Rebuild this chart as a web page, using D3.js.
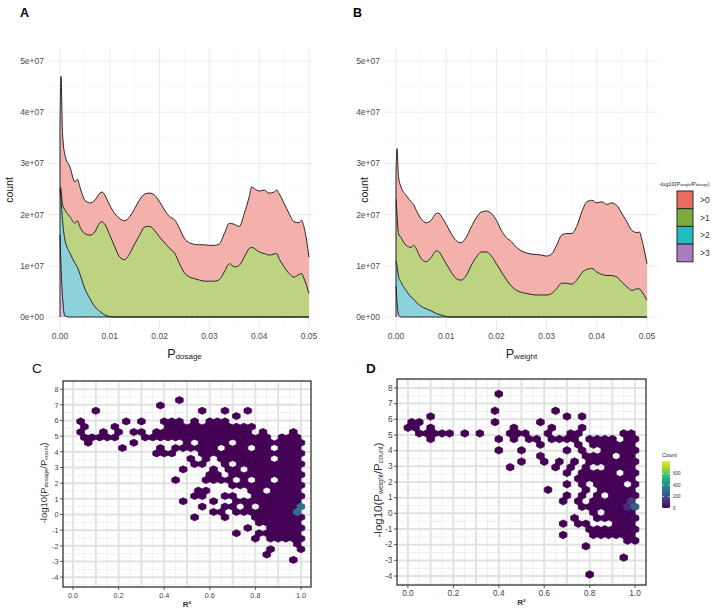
<!DOCTYPE html>
<html><head><meta charset="utf-8">
<script src="https://cdn.jsdelivr.net/npm/d3@7"></script>
<style>
body{margin:0;background:#fff}
svg{display:block}
text{font-family:"Liberation Sans",Arial,sans-serif}
</style>
</head><body>
<svg id="chart" width="720" height="612"></svg>
<script>
// ================= DATA =================
// x grid of the density curves (P value)
const densityX = [0, 0.0002, 0.0005, 0.001, 0.002, 0.003, 0.0035, 0.004, 0.005, 0.006,
  0.007, 0.008, 0.0085, 0.009, 0.010, 0.011, 0.012, 0.013, 0.014, 0.015,
  0.016, 0.017, 0.018, 0.019, 0.020, 0.021, 0.022, 0.023, 0.024, 0.025,
  0.026, 0.027, 0.028, 0.029, 0.030, 0.031, 0.032, 0.033, 0.034, 0.035,
  0.036, 0.037, 0.038, 0.0385, 0.039, 0.040, 0.041, 0.042, 0.043, 0.0435,
  0.044, 0.045, 0.046, 0.047, 0.048, 0.0485, 0.049, 0.050];
const countUnit = 1e7;
const groups = [">0", ">1", ">2", ">3"];
// stacked tops (units of 1e7) for P_dosage
const dosageTopGt0 = [3.8, 4.7, 3.6, 3.16, 2.93, 2.64, 2.69, 2.54, 2.28, 2.23,
  2.28, 2.42, 2.44, 2.38, 2.18, 2.02, 1.92, 1.88, 1.96, 2.12,
  2.29, 2.40, 2.42, 2.38, 2.25, 2.09, 1.96, 1.90, 1.73, 1.53,
  1.45, 1.42, 1.41, 1.41, 1.40, 1.40, 1.43, 1.63, 1.83, 1.81,
  1.77, 2.02, 2.35, 2.54, 2.51, 2.46, 2.48, 2.42, 2.44, 2.48,
  2.41, 2.22, 2.02, 1.86, 1.84, 1.89, 1.76, 1.17];
const dosageTopGt1 = [2.55, 2.5, 2.2, 2.09, 1.96, 1.83, 1.88, 1.76, 1.63, 1.60,
  1.66, 1.84, 1.86, 1.81, 1.60, 1.37, 1.17, 1.12, 1.24, 1.43,
  1.60, 1.76, 1.77, 1.69, 1.56, 1.45, 1.34, 1.25, 1.04, 0.86,
  0.78, 0.75, 0.72, 0.70, 0.70, 0.70, 0.73, 0.88, 1.04, 0.98,
  1.01, 1.17, 1.34, 1.36, 1.34, 1.27, 1.24, 1.21, 1.23, 1.24,
  1.14, 0.98, 0.85, 0.78, 0.83, 0.85, 0.75, 0.46];
const dosageTopGt2 = [2.5, 2.3, 1.9, 1.5, 1.25, 1.05, 0.97, 0.84, 0.55, 0.36,
  0.2, 0.11, 0.07, 0.04, 0.01, 0, 0, 0, 0, 0,
  0, 0, 0, 0, 0, 0, 0, 0, 0, 0,
  0, 0, 0, 0, 0, 0, 0, 0, 0, 0,
  0, 0, 0, 0, 0, 0, 0, 0, 0, 0,
  0, 0, 0, 0, 0, 0, 0, 0];
const dosageTopGt3 = [1.6, 1.0, 0.4, 0.02, 0, 0, 0, 0, 0, 0,
  0, 0, 0, 0, 0, 0, 0, 0, 0, 0,
  0, 0, 0, 0, 0, 0, 0, 0, 0, 0,
  0, 0, 0, 0, 0, 0, 0, 0, 0, 0,
  0, 0, 0, 0, 0, 0, 0, 0, 0, 0,
  0, 0, 0, 0, 0, 0, 0, 0];
// stacked tops (units of 1e7) for P_weight
const weightTopGt0 = [2.8, 3.29, 2.74, 2.54, 2.38, 2.25, 2.20, 2.09, 1.92, 1.84,
  1.89, 2.02, 2.03, 1.97, 1.81, 1.63, 1.49, 1.45, 1.56, 1.76,
  1.94, 2.05, 2.07, 2.02, 1.89, 1.69, 1.55, 1.47, 1.36, 1.29,
  1.25, 1.23, 1.22, 1.21, 1.19, 1.23, 1.40, 1.60, 1.63, 1.63,
  1.77, 2.05, 2.25, 2.27, 2.28, 2.23, 2.25, 2.20, 2.23, 2.21,
  2.18, 2.02, 1.86, 1.69, 1.65, 1.66, 1.50, 1.04];
const weightTopGt1 = [2.3, 2.0, 1.63, 1.55, 1.40, 1.36, 1.40, 1.34, 1.14, 1.08,
  1.16, 1.29, 1.28, 1.21, 1.04, 0.88, 0.75, 0.72, 0.81, 1.01,
  1.17, 1.27, 1.27, 1.19, 1.04, 0.88, 0.73, 0.60, 0.52, 0.48,
  0.46, 0.44, 0.43, 0.43, 0.43, 0.46, 0.55, 0.66, 0.66, 0.64,
  0.72, 0.86, 0.93, 0.94, 0.95, 0.88, 0.83, 0.81, 0.81, 0.80,
  0.78, 0.68, 0.59, 0.52, 0.55, 0.55, 0.49, 0.33];
const weightTopGt2 = [1.1, 1.0, 0.8, 0.68, 0.52, 0.39, 0.35, 0.29, 0.21, 0.16,
  0.12, 0.07, 0.05, 0.04, 0.01, 0, 0, 0, 0, 0,
  0, 0, 0, 0, 0, 0, 0, 0, 0, 0,
  0, 0, 0, 0, 0, 0, 0, 0, 0, 0,
  0, 0, 0, 0, 0, 0, 0, 0, 0, 0,
  0, 0, 0, 0, 0, 0, 0, 0];
const weightTopGt3 = [0.6, 0.3, 0.05, 0, 0, 0, 0, 0, 0, 0,
  0, 0, 0, 0, 0, 0, 0, 0, 0, 0,
  0, 0, 0, 0, 0, 0, 0, 0, 0, 0,
  0, 0, 0, 0, 0, 0, 0, 0, 0, 0,
  0, 0, 0, 0, 0, 0, 0, 0, 0, 0,
  0, 0, 0, 0, 0, 0, 0, 0];
const densityXTicks = [0, 0.01, 0.02, 0.03, 0.04, 0.05];
const densityYTicks = [0, 1, 2, 3, 4, 5];

// hexbin points: [R², -log10 ratio, weight]
const dosageHexPoints = [[0.02,5.25,1],[0.026,5.85,1],[0.056,5.6,1],[0.044,5.0,1],[0.076,5.0,1],[0.079,4.67,1],
  [0.113,6.5,1],[0.11,4.9,1],[0.12,5.2,1],[0.125,5.4,1],[0.13,5.0,1],[0.135,5.25,1],[0.146,4.9,1],
  [0.17,5.0,1],[0.185,5.0,1],[0.19,5.6,1],[0.2,4.2,1],[0.215,5.2,1],[0.244,5.85,1],[0.26,5.2,1],
  [0.28,4.67,1],[0.29,5.2,1],[0.313,6.05,1],[0.325,5.0,1],[0.34,4.9,1],[0.35,5.1,1],[0.35,3.95,1],
  [0.37,6.9,1],[0.376,5.0,1],[0.383,5.2,1],[0.40,5.95,1],[0.39,4.35,1],[0.40,4.1,1],[0.41,5.3,1],
  [0.42,5.6,1],[0.425,5.1,1],[0.43,6.0,1],[0.41,5.1,1],[0.435,3.9,1],[0.44,3.75,1],[0.45,7.3,1],
  [0.45,2.3,1],[0.46,5.8,1],[0.47,5.5,1],[0.48,3.05,1],[0.47,2.9,1],[0.48,0.8,1],[0.5,3.5,1],
  [0.51,3.6,1],[0.52,1.2,1],[0.53,6.05,1],[0.54,0.0,1],[0.54,3.05,1],[0.55,1.45,1],[0.57,6.5,1],
  [0.57,0.7,1],[0.58,1.1,1],[0.595,1.65,1],[0.61,0.15,1],[0.61,1.0,1],[0.66,6.7,1],[0.67,-0.17,1],
  [0.67,0.58,1],[0.7,6.3,1],[0.7,-1.3,1],[0.76,6.7,1],[0.775,-0.9,1],[0.8,-1.65,1],[0.82,-1.3,1],
  [0.85,-2.55,1],[0.88,-2.1,1],[0.87,-1.5,1],[0.875,-1.6,1],[0.95,-2.9,1],[0.96,5.4,1],[0.98,-1.7,1],
  [0.995,-2.1,1],[0.99,-1.8,1],[0.6,5.9,1],[0.63,5.9,1],[0.65,5.9,1],[0.72,5.6,1],[0.75,5.8,1],
  [0.78,5.6,1],[0.82,5.2,1],[0.86,5.0,1],[0.9,4.9,1],[0.95,4.8,1],[0.98,4.8,1],[0.6,2.9,1],
  [0.58,3.2,1],[0.63,2.75,1],[0.66,1.0,1],[0.69,1.5,1],[0.72,1.7,1],[0.86,-1.3,1],[0.9,-1.6,1],
  [0.94,-1.6,1],[0.96,-1.6,1],[0.92,-1.3,1],[0.84,-1.1,1],[0.64,0.3,1],[0.62,2.3,1],
  [0.99,0.45,290],[0.99,0.15,190],[0.983,0.3,100]];
// dense blocks: [R² from, R² to, y from, y to, count per cell]
const dosageHexBlocks = [[0.86,1.0,-1.2,4.6,5],[0.995,1.005,-1.8,4.9,6],[0.78,0.86,-0.8,5.0,3],
  [0.66,0.78,0.0,5.8,3],[0.56,0.66,3.3,5.9,2],[0.45,0.56,4.2,5.8,2],[0.58,0.66,2.0,2.6,2]];
const dosageHexHoles = [[0.734,2.95],[0.69,3.3],[0.79,4.25],[0.87,4.25],[0.88,2.4],[0.84,1.45],
  [0.77,2.1],[0.6,3.6],[0.65,4.1],[0.895,3.7],[0.705,4.77],[0.705,1.55],[0.755,1.1],[0.81,0.47],
  [0.52,4.6],[0.68,0.0],[0.7,2.2],[0.73,0.6],[0.67,1.5],[0.68,2.6],[0.69,0.9],[0.72,1.3],
  [0.66,1.9],[0.75,1.7],[0.47,4.5],[0.77,-0.5]];

const weightHexPoints = [[0.01,5.3,1],[0.018,5.5,1],[0.018,5.96,1],[0.04,5.06,1],[0.049,5.7,1],[0.078,5.06,1],
  [0.096,6.3,1],[0.107,6.1,1],[0.11,5.5,1],[0.115,5.3,1],[0.12,5.1,1],[0.11,4.87,1],[0.15,4.87,1],
  [0.187,5.3,1],[0.25,5.3,1],[0.3,5.06,1],[0.378,6.7,1],[0.416,7.55,1],[0.396,5.87,1],[0.397,4.6,1],
  [0.399,4.23,1],[0.437,5.06,1],[0.437,2.99,1],[0.455,5.5,1],[0.465,5.66,1],[0.457,4.6,1],[0.49,3.2,1],
  [0.497,5.06,1],[0.518,5.06,1],[0.507,4.0,1],[0.54,4.6,1],[0.566,4.8,1],[0.574,4.3,1],[0.58,3.8,1],
  [0.593,5.87,1],[0.618,5.5,1],[0.627,5.06,1],[0.637,4.8,1],[0.595,3.4,1],[0.628,1.54,1],[0.657,4.8,1],
  [0.654,3.4,1],[0.654,2.99,1],[0.666,6.5,1],[0.669,-0.75,1],[0.667,-1.35,1],[0.676,0.9,1],[0.687,4.8,1],
  [0.69,4.05,1],[0.695,6.3,1],[0.70,2.6,1],[0.705,2.45,1],[0.71,1.9,1],[0.705,1.07,1],[0.728,5.2,1],
  [0.735,5.0,1],[0.74,4.7,1],[0.748,4.3,1],[0.755,3.9,1],[0.762,3.5,1],[0.757,5.4,1],[0.765,6.1,1],
  [0.743,0.64,1],[0.75,0.43,1],[0.735,-0.4,1],[0.757,-0.75,1],[0.772,1.3,1],[0.785,1.3,1],[0.775,-0.75,1],
  [0.79,-1.07,1],[0.8,-1.4,1],[0.775,-2.0,1],[0.787,-3.85,1],[0.787,3.0,1],[0.8,2.67,1],[0.79,0.64,1],
  [0.805,0.43,1],[0.82,0.2,1],[0.816,4.7,1],[0.846,4.8,1],[0.875,4.6,1],[0.91,4.7,1],[0.95,5.3,1],
  [0.985,5.3,1],[0.963,4.85,1],[0.794,4.7,1],[0.8,4.27,1],[0.816,4.27,1],[0.86,-0.43,1],[0.875,-0.85,1],
  [0.904,-1.17,1],[0.934,-1.28,1],[0.956,-1.6,1],[0.949,-2.6,1],[0.996,-1.67,1],[0.838,-1.39,1],
  [0.816,-1.07,1],[0.72,3.3,1],[0.73,3.0,1],[0.74,2.2,1],[0.76,2.0,1],[0.78,3.6,1],[0.76,4.2,1],
  [0.99,0.4,220],[0.99,0.7,130],[0.983,0.3,90]];
const weightHexBlocks = [[0.88,1.0,-1.4,4.7,5],[0.995,1.005,-1.6,4.8,6],[0.82,0.88,-1.2,4.6,3],
  [0.77,0.82,0.5,3.9,2],[0.74,0.77,2.2,3.6,2]];
const weightHexHoles = [[0.904,3.63],[0.846,3.0],[0.963,1.7],[0.875,1.07],[0.816,1.7],[0.92,2.56],
  [0.846,0.0],[0.89,-0.53],[0.82,2.8],[0.79,2.0],[0.8,1.2],[0.83,4.2],[0.78,3.2],[0.85,-0.9],
  [0.79,0.6],[0.75,2.9]];

const hexXTicks = [0, 0.2, 0.4, 0.6, 0.8, 1.0];
const hexYTicks = [-4, -3, -2, -1, 0, 1, 2, 3, 4, 5, 6, 7, 8];
const countTicks = [0, 200, 400, 600];

// ================= DRAWING =================
const svg = d3.select("#chart");
const areaFill = ["#F4B1AB", "#BDD382", "#8DD2DA", "#DDB8EC"];
const keyFill  = ["#EC6A5F", "#7CAD3C", "#22BCC3", "#A87DC2"];

function densityPanel(c) {
  const g = svg.append("g");
  const x = d3.scaleLinear([0, 0.05], [c.x0, c.x5]);
  const y = d3.scaleLinear([0, 5 * countUnit], [317, 61]);
  const minorX = d3.range(0.005, 0.05, 0.01);
  g.selectAll(null).data(minorX).join("line")
    .attr("x1", d => x(d)).attr("x2", d => x(d)).attr("y1", 48).attr("y2", 329)
    .attr("stroke", "#F2F2F2").attr("stroke-width", 0.6);
  const minorY = [0.5, 1.5, 2.5, 3.5, 4.5];
  g.selectAll(null).data(minorY).join("line")
    .attr("x1", c.gx0).attr("x2", c.gx1).attr("y1", d => y(d * countUnit)).attr("y2", d => y(d * countUnit))
    .attr("stroke", "#F2F2F2").attr("stroke-width", 0.6);
  g.selectAll(null).data(densityXTicks).join("line")
    .attr("x1", d => x(d)).attr("x2", d => x(d)).attr("y1", 48).attr("y2", 329)
    .attr("stroke", "#EBEBEB").attr("stroke-width", 1);
  g.selectAll(null).data(densityYTicks).join("line")
    .attr("x1", c.gx0).attr("x2", c.gx1).attr("y1", d => y(d * countUnit)).attr("y2", d => y(d * countUnit))
    .attr("stroke", "#EBEBEB").attr("stroke-width", 1);

  const tops = c.tops;
  const zero = densityX.map(() => 0);
  const idx = d3.range(densityX.length);
  const curve = d3.curveMonotoneX;
  tops.forEach((top, k) => {
    const lower = k < 3 ? tops[k + 1] : zero;
    const area = d3.area().curve(curve)
      .x(i => x(densityX[i]))
      .y0(i => y(lower[i] * countUnit))
      .y1(i => y(top[i] * countUnit));
    g.append("path").attr("d", area(idx)).attr("fill", areaFill[k]);
  });
  [3, 2, 1, 0].forEach(k => {
    const top = tops[k];
    const lower = k < 3 ? tops[k + 1] : zero;
    const line = d3.line().curve(curve).x(i => x(densityX[i])).y(i => y(top[i] * countUnit));
    g.append("path").attr("d", line(idx)).attr("fill", "none").attr("stroke", "#111").attr("stroke-width", 0.9);
    g.append("line").attr("x1", x(0)).attr("x2", x(0))
      .attr("y1", y(lower[0] * countUnit)).attr("y2", y(top[0] * countUnit))
      .attr("stroke", "#111").attr("stroke-width", 0.9);
  });
  g.selectAll(null).data(densityYTicks).join("text")
    .attr("x", c.x0 - 16).attr("y", d => y(d * countUnit) + 3)
    .attr("text-anchor", "end").attr("font-size", 8.5).attr("fill", "#4D4D4D")
    .text(d => d + "e+" + (d === 0 ? "00" : "07"));
  g.selectAll(null).data(densityXTicks).join("text")
    .attr("x", d => x(d)).attr("y", 338.5)
    .attr("text-anchor", "middle").attr("font-size", 8.5).attr("fill", "#4D4D4D")
    .text(d => d3.format(".2f")(d));
  g.append("text").attr("transform", `translate(${c.countX},190) rotate(-90)`)
    .attr("text-anchor", "middle").attr("font-size", 10.5).attr("fill", "#1a1a1a").text("count");
  const xl = g.append("text").attr("x", (x(0) + x(0.05)) / 2).attr("y", 357.5)
    .attr("text-anchor", "middle").attr("fill", "#1a1a1a");
  xl.append("tspan").attr("font-size", 12.5).text("P");
  xl.append("tspan").attr("font-size", 8).attr("dy", 1).text(c.sub);
  g.append("text").attr("x", c.letterX).attr("y", 17).attr("font-size", 12.5)
    .attr("font-weight", "bold").attr("fill", "#000").text(c.letter);
}

densityPanel({x0: 60, x5: 309, gx0: 48, gx1: 313, countX: 13, letterX: 20, letter: "A",
  sub: "dosage", tops: [dosageTopGt0, dosageTopGt1, dosageTopGt2, dosageTopGt3]});
densityPanel({x0: 396, x5: 647, gx0: 385, gx1: 658, countX: 368, letterX: 353, letter: "B",
  sub: "weight", tops: [weightTopGt0, weightTopGt1, weightTopGt2, weightTopGt3]});

(function () {
  const g = svg.append("g");
  const t = g.append("text").attr("x", 659).attr("y", 185.5).attr("font-size", 5.6).attr("fill", "#222");
  t.append("tspan").text("-log10(P");
  t.append("tspan").attr("font-size", 3.6).attr("dy", 0.8).text("weight");
  t.append("tspan").attr("dy", -0.8).text("/P");
  t.append("tspan").attr("font-size", 3.6).attr("dy", 0.8).text("dosage");
  t.append("tspan").attr("dy", -0.8).text(")");
  groups.forEach((gr, i) => {
    g.append("rect").attr("x", 677).attr("y", 191 + i * 17.7).attr("width", 16).attr("height", 17.7)
      .attr("fill", keyFill[i]).attr("stroke", "#2a2a2a").attr("stroke-width", 1);
    g.append("text").attr("x", 700).attr("y", 203 + i * 17.7).attr("font-size", 8.5)
      .attr("fill", "#333").text(gr);
  });
})();

// ---------- hexbin panels ----------
const viridis = d3.scaleSequential(d3.interpolateViridis).domain([0, 820]);

function hexPanel(c) {
  const g = svg.append("g");
  const x = d3.scaleLinear(c.xDomain, [c.left, c.right]);
  const y = d3.scaleLinear(c.yDomain, [c.bottom, c.top]);
  const gx = d3.range(0, 1.0001, 0.05), gy = d3.range(-4.5, 8.51, 0.5);
  g.selectAll(null).data(gx).join("line")
    .attr("x1", d => x(d)).attr("x2", d => x(d)).attr("y1", c.top).attr("y2", c.bottom)
    .attr("stroke", (d, i) => i % 2 === 0 ? "#E2E2E2" : "#EEEEEE")
    .attr("stroke-width", (d, i) => i % 2 === 0 ? 2 : 1);
  g.selectAll(null).data(gy).join("line")
    .attr("x1", c.left).attr("x2", c.right).attr("y1", d => y(d)).attr("y2", d => y(d))
    .attr("stroke", (d, i) => i % 2 === 1 ? "#E2E2E2" : "#EEEEEE")
    .attr("stroke-width", (d, i) => i % 2 === 1 ? 2 : 1);

  const bwx = c.bwx, rs = c.rowStep, X0 = c.hx0, Y0 = c.hy0;
  const bins = new Map();
  function cellOf(px, py) {
    const u = (px - X0) / bwx, v = (py - Y0) / rs;
    let best = null;
    for (const r of [Math.floor(v), Math.floor(v) + 1]) {
      const off = (r & 1) ? 0.5 : 0;
      const cc = Math.round(u - off) + off;
      const d = (u - cc) ** 2 + ((v - r) * Math.sqrt(3) / 2) ** 2;
      if (!best || d < best.d) best = {c: cc, r, d};
    }
    return best;
  }
  function add(cc, r, n) {
    const k = cc + "_" + r;
    const b = bins.get(k) || {cx: X0 + cc * bwx, cy: Y0 + r * rs, n: 0};
    b.n += n; bins.set(k, b);
  }
  c.blocks.forEach(([xa, xb, ya, yb, n]) => {
    for (let r = Math.ceil((ya - Y0) / rs); r <= Math.floor((yb - Y0) / rs); r++) {
      const off = (r & 1) ? 0.5 : 0;
      for (let cc = Math.ceil((xa - X0) / bwx - off) + off; cc <= (xb - X0) / bwx + 1e-9; cc++) add(cc, r, n);
    }
  });
  c.points.forEach(([px, py, n]) => { const b = cellOf(px, py); add(b.c, b.r, n); });
  c.holes.forEach(([px, py]) => { const b = cellOf(px, py); bins.delete(b.c + "_" + b.r); });

  const kx = Math.abs(x(1) - x(0)), ky = Math.abs(y(1) - y(0));
  const w = bwx / 2 * kx, h = rs * 0.667 * ky;
  const hexPath = `M0,${-h}L${w},${-h / 2}L${w},${h / 2}L0,${h}L${-w},${h / 2}L${-w},${-h / 2}Z`;
  g.selectAll(null).data(Array.from(bins.values()).sort((a, b) => a.n - b.n)).join("path")
    .attr("transform", d => `translate(${x(d.cx)},${y(d.cy)})`)
    .attr("d", hexPath).attr("fill", d => viridis(d.n)).attr("stroke", d => viridis(d.n)).attr("stroke-width", 0.8)
    .attr("stroke-linejoin", "round");

  g.append("rect").attr("x", c.left).attr("y", c.top).attr("width", c.right - c.left).attr("height", c.bottom - c.top)
    .attr("fill", "none").attr("stroke", "#333").attr("stroke-width", 1.3);
  g.selectAll(null).data(hexXTicks).join("line")
    .attr("x1", d => x(d)).attr("x2", d => x(d)).attr("y1", c.bottom).attr("y2", c.bottom + 3)
    .attr("stroke", "#333").attr("stroke-width", 0.8);
  g.selectAll(null).data(hexYTicks).join("line")
    .attr("x1", c.left - 3).attr("x2", c.left).attr("y1", d => y(d)).attr("y2", d => y(d))
    .attr("stroke", "#333").attr("stroke-width", 0.8);
  g.selectAll(null).data(hexXTicks).join("text")
    .attr("x", d => x(d)).attr("y", c.bottom + 10.5).attr("text-anchor", "middle")
    .attr("font-size", c.tickSize).attr("fill", "#444").text(d => d.toFixed(1));
  g.selectAll(null).data(hexYTicks).join("text")
    .attr("x", c.left - 4.5).attr("y", d => y(d) + 2.7).attr("text-anchor", "end")
    .attr("font-size", c.tickSize).attr("fill", "#444").text(d => d);
  g.append("text").attr("x", (x(0) + x(1)) / 2).attr("y", c.bottom + 20).attr("text-anchor", "middle")
    .attr("font-size", 8).attr("font-weight", "bold").attr("fill", "#333").text("R²");
  const yl = g.append("text").attr("transform", `translate(${c.ylabX},${c.ylabY}) rotate(-90)`)
    .attr("text-anchor", "middle").attr("font-size", c.labSize).attr("fill", "#333");
  yl.append("tspan").text("-log10(P");
  yl.append("tspan").attr("font-size", c.labSize * 0.6).attr("dy", 1.3).text(c.sub1);
  yl.append("tspan").attr("dy", -1.3).text("/P");
  yl.append("tspan").attr("font-size", c.labSize * 0.6).attr("dy", 1.3).text(c.sub2);
  yl.append("tspan").attr("dy", -1.3).text(")");
  g.append("text").attr("x", c.letterX).attr("y", 373).attr("font-size", 13.5)
    .attr("font-weight", c.letterBold ? "bold" : "normal").attr("fill", "#111").text(c.letter);
}

hexPanel({left: 63, right: 311, top: 381, bottom: 587, xDomain: [-0.044, 1.044], yDomain: [-4.63, 8.52],
  bwx: 1 / 30, rowStep: 0.34, hx0: 0, hy0: -2.9,
  points: dosageHexPoints, blocks: dosageHexBlocks, holes: dosageHexHoles, tickSize: 7.3, labSize: 9.5,
  ylabX: 47, ylabY: 483, sub1: "dosage", sub2: "count", letterX: 32, letter: "C", letterBold: false});
hexPanel({left: 397, right: 646, top: 379, bottom: 585, xDomain: [-0.048, 1.048], yDomain: [-4.57, 8.57],
  bwx: 1 / 30, rowStep: 0.36, hx0: 0, hy0: -3.9,
  points: weightHexPoints, blocks: weightHexBlocks, holes: weightHexHoles, tickSize: 8.3, labSize: 11.5,
  ylabX: 382, ylabY: 490, sub1: "weight", sub2: "count", letterX: 366, letter: "D", letterBold: true});

(function () {
  const g = svg.append("g");
  const defs = svg.append("defs");
  const grad = defs.append("linearGradient").attr("id", "vir").attr("x1", 0).attr("y1", 1).attr("x2", 0).attr("y2", 0);
  d3.range(0, 1.0001, 0.1).forEach(t => grad.append("stop").attr("offset", t).attr("stop-color", d3.interpolateViridis(t)));
  const cy = d3.scaleLinear([0, 820], [508, 461]);
  g.append("rect").attr("x", 662).attr("y", 461).attr("width", 8).attr("height", 47).attr("fill", "url(#vir)");
  g.selectAll(null).data(countTicks).join("line")
    .attr("x1", 662).attr("x2", 664).attr("y1", d => cy(d)).attr("y2", d => cy(d)).attr("stroke", "#fff").attr("stroke-width", 0.6);
  g.selectAll(null).data(countTicks).join("line")
    .attr("x1", 668).attr("x2", 670).attr("y1", d => cy(d)).attr("y2", d => cy(d)).attr("stroke", "#fff").attr("stroke-width", 0.6);
  g.selectAll(null).data(countTicks).join("text")
    .attr("x", 673).attr("y", d => cy(d) + 1.5).attr("font-size", 4.5).attr("fill", "#333").text(d => d);
  g.append("text").attr("x", 662).attr("y", 457).attr("font-size", 5.5).attr("fill", "#222").text("Count");
})();
</script>
</body></html>
